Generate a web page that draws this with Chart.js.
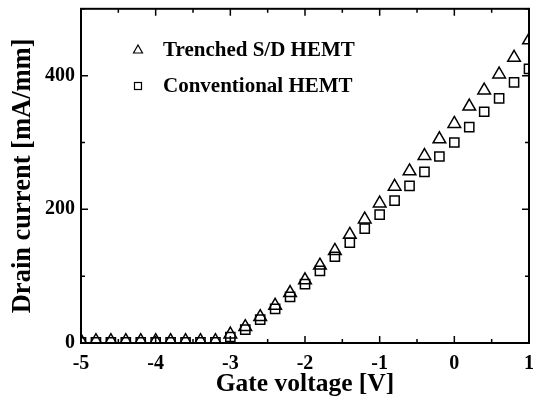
<!DOCTYPE html>
<html>
<head>
<meta charset="utf-8">
<script src="https://cdn.jsdelivr.net/npm/chart.js@4/dist/chart.umd.min.js"></script>
<style>
  html, body { margin: 0; padding: 0; background: #fff; }
  #wrap { width: 538px; height: 403px; }
</style>
</head>
<body>
<div id="wrap"><canvas id="mycanvas" width="538" height="403"></canvas></div>
<script>
var gateVoltage = [-5.0, -4.8, -4.6, -4.4, -4.2, -4.0, -3.8, -3.6, -3.4, -3.2,
                   -3.0, -2.8, -2.6, -2.4, -2.2, -2.0, -1.8, -1.6, -1.4, -1.2,
                   -1.0, -0.8, -0.6, -0.4, -0.2, 0.0, 0.2, 0.4, 0.6, 0.8, 1.0];
var trenched = [3, 3, 3, 3, 3, 3, 3, 3, 3, 3,
                13, 24, 39, 56, 75, 94, 116, 138, 162, 185,
                209, 234, 257, 280, 305, 328, 354, 378, 402, 427, 453];
var conventional = [1, 1, 1, 1, 1, 1, 1, 1, 1, 1,
                    9, 20, 35, 51, 69, 88, 108, 129, 150, 171,
                    192, 213, 235, 256, 279, 300, 323, 346, 366, 390, 410];
var seriesNames = ['Trenched S/D HEMT', 'Conventional HEMT'];
var xTicks = [-5, -4, -3, -2, -1, 0, 1];
var yTickLabels = [0, 200, 400];

function toPoints(xs, ys) {
  var pts = [];
  for (var i in xs) pts.push({x: xs[i], y: ys[i]});
  return pts;
}

var serif = '"Liberation Serif", "Times New Roman", serif';

// frame, inward ticks and legend
var framePlugin = {
  id: 'frame',
  afterDraw: function(chart) {
    var ctx = chart.ctx, a = chart.chartArea;
    var xs = chart.scales.x, ys = chart.scales.y;
    ctx.save();
    ctx.strokeStyle = '#000';
    ctx.lineWidth = 2;
    ctx.strokeRect(a.left, a.top, a.right - a.left, a.bottom - a.top);
    ctx.lineWidth = 1.5;
    ctx.beginPath();
    for (var v = -5; v <= 1.001; v += 0.5) {
      var px = xs.getPixelForValue(v);
      var len = (Math.abs(v - Math.round(v)) < 0.01) ? 7 : 4;
      ctx.moveTo(px, a.bottom); ctx.lineTo(px, a.bottom - len);
      ctx.moveTo(px, a.top); ctx.lineTo(px, a.top + len);
    }
    for (var y = 0; y <= 500; y += 100) {
      var py = ys.getPixelForValue(y);
      var l2 = (y % 200 === 0) ? 7 : 4;
      ctx.moveTo(a.left, py); ctx.lineTo(a.left + l2, py);
      ctx.moveTo(a.right, py); ctx.lineTo(a.right - l2, py);
    }
    ctx.stroke();

    // legend
    ctx.lineWidth = 1.2;
    var lx = 138, r1 = 50, r2 = 86;
    ctx.beginPath();
    ctx.moveTo(lx, r1 - 5); ctx.lineTo(lx + 4.5, r1 + 3); ctx.lineTo(lx - 4.5, r1 + 3); ctx.closePath();
    ctx.stroke();
    ctx.strokeRect(lx - 3.5, r2 - 3.5, 7, 7);
    ctx.fillStyle = '#000';
    ctx.font = 'bold 21px ' + serif;
    ctx.textBaseline = 'middle';
    ctx.textAlign = 'left';
    ctx.fillText(seriesNames[0], 163, r1 + 1);
    ctx.fillText(seriesNames[1], 163, r2 + 1);
    ctx.restore();
  }
};

var chartdata = {
  datasets: [
    {
      label: seriesNames[0],
      data: toPoints(gateVoltage, trenched),
      pointStyle: 'triangle',
      pointRadius: 7.3,
      pointBorderWidth: 1.5,
      borderColor: '#000',
      backgroundColor: 'rgba(0,0,0,0)',
      showLine: false
    },
    {
      label: seriesNames[1],
      data: toPoints(gateVoltage, conventional),
      pointStyle: 'rect',
      pointRadius: 6.5,
      pointBorderWidth: 1.5,
      borderColor: '#000',
      backgroundColor: 'rgba(0,0,0,0)',
      showLine: false
    }
  ]
};

var ctx = document.getElementById('mycanvas');

var scatter = new Chart(ctx, {
  type: 'scatter',
  data: chartdata,
  options: {
    responsive: false,
    animation: false,
    layout: { padding: { top: 6, right: 9, left: 0, bottom: 0 } },
    plugins: { legend: { display: false }, tooltip: { enabled: false } },
    scales: {
      x: {
        type: 'linear',
        min: -5, max: 1,
        afterFit: function(s) { s.height = 60; s.paddingLeft = 0; s.paddingRight = 0; },
        afterBuildTicks: function(s) { s.ticks = xTicks.map(function(v) { return {value: v}; }); },
        grid: { display: false, drawTicks: false },
        border: { display: false },
        ticks: {
          padding: 9,
          color: '#000',
          font: { family: serif, size: 20, weight: 'bold' },
          callback: function(v) { return String(v); }
        },
        title: {
          display: true,
          text: 'Gate voltage [V]',
          color: '#000',
          padding: { top: 0, bottom: 3 },
          font: { family: serif, size: 25.5, weight: 'bold' }
        }
      },
      y: {
        type: 'linear',
        min: 0, max: 500,
        afterFit: function(s) { s.width = 81; s.paddingTop = 0; s.paddingBottom = 0; },
        afterBuildTicks: function(s) { s.ticks = yTickLabels.map(function(v) { return {value: v}; }); },
        grid: { display: false, drawTicks: false },
        border: { display: false },
        ticks: {
          padding: 6,
          color: '#000',
          font: { family: serif, size: 20, weight: 'bold' }
        },
        title: {
          display: true,
          text: 'Drain current [mA/mm]',
          color: '#000',
          padding: { top: 7, bottom: 0 },
          font: { family: serif, size: 26.5, weight: 'bold' }
        }
      }
    }
  },
  plugins: [framePlugin]
});
</script>
</body>
</html>
